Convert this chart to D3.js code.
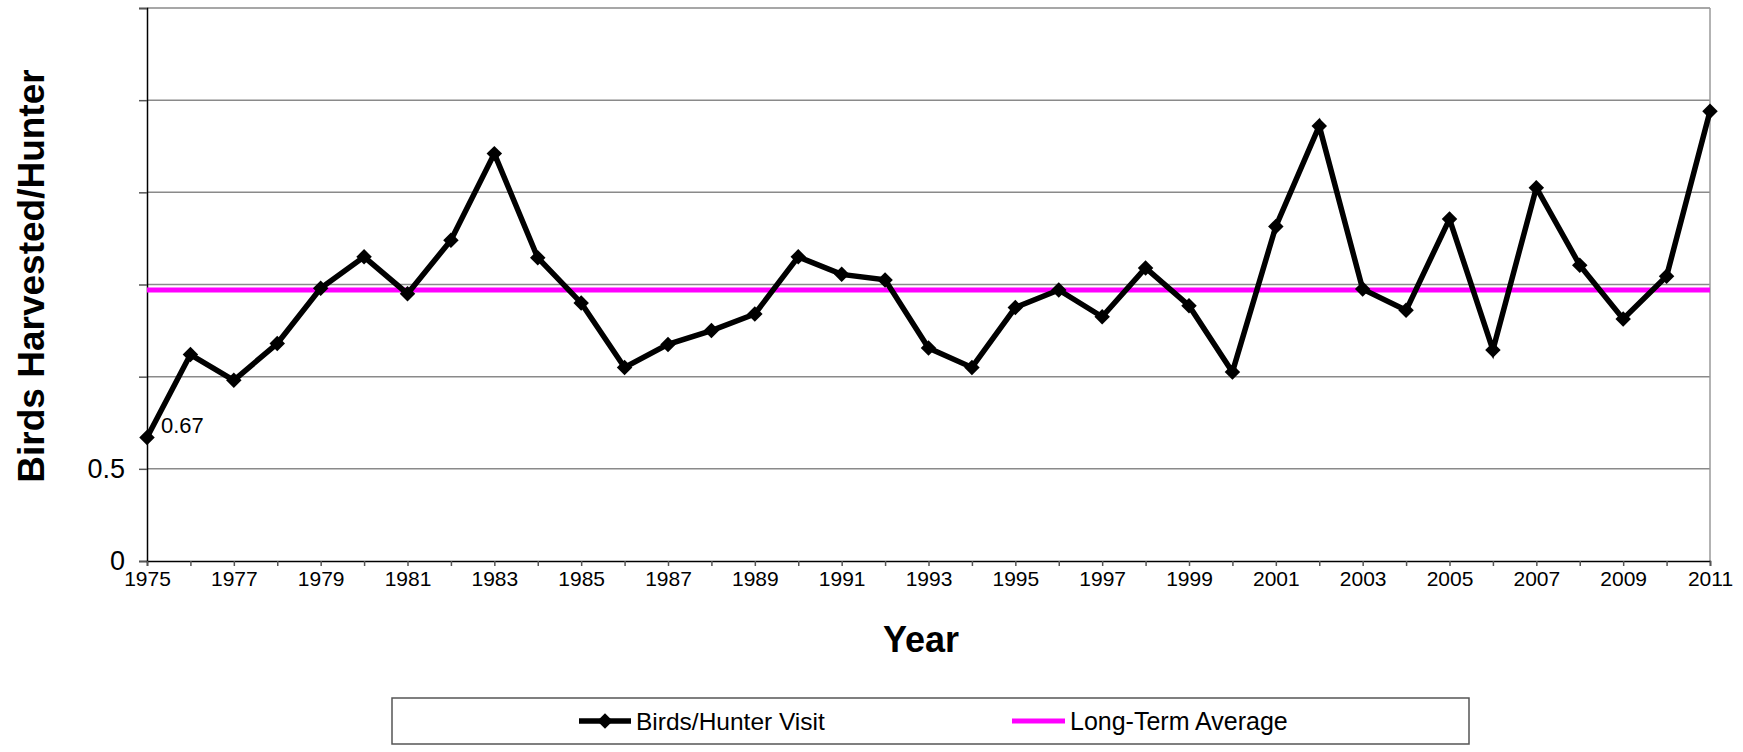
<!DOCTYPE html>
<html>
<head>
<meta charset="utf-8">
<script src="https://cdn.jsdelivr.net/npm/d3@7"></script>
<style>
  html, body { margin: 0; padding: 0; background: #fff; }
  svg { display: block; font-family: Arial, "Liberation Sans", sans-serif; }
</style>
</head>
<body>
<svg id="chart" width="1743" height="752"></svg>
<script>
const years = d3.range(1975, 2012);
const birdsPerHunter = [
  0.67, 1.12, 0.98, 1.18, 1.48, 1.65, 1.45, 1.74, 2.21, 1.645,
  1.40, 1.05, 1.175, 1.25, 1.34, 1.65, 1.555, 1.525, 1.155, 1.05,
  1.375, 1.47, 1.325, 1.59, 1.385, 1.025, 1.815, 2.36, 1.475, 1.36,
  1.855, 1.145, 2.025, 1.605, 1.313, 1.545, 2.44
];
const longTermAverage = years.map(() => 1.47);
const yTickValues = [0, 0.5, 1, 1.5, 2, 2.5, 3];
const yTickLabels = ["0", "0.5", "", "", "", "", ""];
const xLabelYears = years.filter(yr => (yr - 1975) % 2 === 0);
const seriesNames = ["Birds/Hunter Visit", "Long-Term Average"];
const dataLabel = { year: 1975, text: "0.67" };

const svg = d3.select("#chart");
const plotL = 147, plotR = 1710, plotT = 8, plotB = 561;

const x = d3.scaleLinear().domain([1975, 2011]).range([plotL, plotR]);
const y = d3.scaleLinear().domain([0, 3]).range([plotB, plotT]);

// gridlines
svg.append("g")
  .selectAll("line")
  .data(yTickValues.filter(v => v > 0))
  .join("line")
  .attr("x1", plotL).attr("x2", plotR)
  .attr("y1", d => y(d)).attr("y2", d => y(d))
  .attr("stroke", "#8a8a8a").attr("stroke-width", 1.5);

// right border
svg.append("line")
  .attr("x1", plotR).attr("x2", plotR).attr("y1", plotT).attr("y2", plotB)
  .attr("stroke", "#9a9a9a").attr("stroke-width", 1.5);

// y axis
const yAxis = d3.axisLeft(y)
  .tickValues(yTickValues)
  .tickFormat((d, i) => yTickLabels[i])
  .tickSize(8).tickPadding(14);
const gy = svg.append("g").attr("transform", `translate(${plotL},0)`).call(yAxis);
gy.select(".domain").attr("stroke", "#000").attr("stroke-width", 1.5);
gy.selectAll(".tick line").attr("stroke", "#555").attr("stroke-width", 1.5);
gy.selectAll(".tick text").attr("font-size", 27).attr("fill", "#000")
  .attr("font-family", "Arial, 'Liberation Sans', sans-serif");

// x axis
const xAxis = d3.axisBottom(x)
  .tickValues(years)
  .tickFormat(d => xLabelYears.includes(d) ? String(d) : "")
  .tickSize(5).tickPadding(5);
const gx = svg.append("g").attr("transform", `translate(0,${plotB})`).call(xAxis);
gx.select(".domain").attr("stroke", "#000").attr("stroke-width", 1.5);
gx.selectAll(".tick line").attr("stroke", "#555").attr("stroke-width", 1.5);
gx.selectAll(".tick text").attr("font-size", 21).attr("fill", "#000")
  .attr("font-family", "Arial, 'Liberation Sans', sans-serif");

// average line
const line = d3.line().x((d, i) => x(years[i])).y(d => y(d));
svg.append("path").datum(longTermAverage)
  .attr("d", line).attr("fill", "none")
  .attr("stroke", "#ff00ff").attr("stroke-width", 5);

// series line
svg.append("path").datum(birdsPerHunter)
  .attr("d", line).attr("fill", "none")
  .attr("stroke", "#000").attr("stroke-width", 5.5)
  .attr("stroke-linejoin", "miter");

// markers (diamonds)
const diamond = d3.symbol().type(d3.symbolSquare).size(120);
svg.append("g").selectAll("path")
  .data(birdsPerHunter)
  .join("path")
  .attr("d", diamond)
  .attr("transform", (d, i) => `translate(${x(years[i])},${y(d)}) rotate(45)`)
  .attr("fill", "#000");

// data label
const dlIndex = years.indexOf(dataLabel.year);
svg.append("text")
  .attr("x", x(dataLabel.year) + 14)
  .attr("y", y(birdsPerHunter[dlIndex]) - 4)
  .attr("font-size", 22)
  .attr("fill", "#000")
  .text(dataLabel.text);

// axis titles
svg.append("text")
  .attr("transform", `translate(44,276) rotate(-90)`)
  .attr("text-anchor", "middle")
  .attr("font-size", 37).attr("font-weight", "bold")
  .text("Birds Harvested/Hunter");

svg.append("text")
  .attr("x", 921).attr("y", 652)
  .attr("text-anchor", "middle")
  .attr("font-size", 36).attr("font-weight", "bold")
  .text("Year");

// legend
const lg = svg.append("g");
lg.append("rect")
  .attr("x", 392).attr("y", 698).attr("width", 1077).attr("height", 46)
  .attr("fill", "#fff").attr("stroke", "#555").attr("stroke-width", 1.5);

const ly = 721;
lg.append("line").attr("x1", 579).attr("x2", 631).attr("y1", ly).attr("y2", ly)
  .attr("stroke", "#000").attr("stroke-width", 5.5);
lg.append("path").attr("d", diamond)
  .attr("transform", `translate(605,${ly}) rotate(45)`).attr("fill", "#000");
lg.append("text").attr("x", 636).attr("y", ly).attr("dy", "0.35em")
  .attr("font-size", 24.5).text(seriesNames[0]);

lg.append("line").attr("x1", 1012).attr("x2", 1065).attr("y1", ly).attr("y2", ly)
  .attr("stroke", "#ff00ff").attr("stroke-width", 5);
lg.append("text").attr("x", 1070).attr("y", ly).attr("dy", "0.35em")
  .attr("font-size", 25).text(seriesNames[1]);
</script>
</body>
</html>
